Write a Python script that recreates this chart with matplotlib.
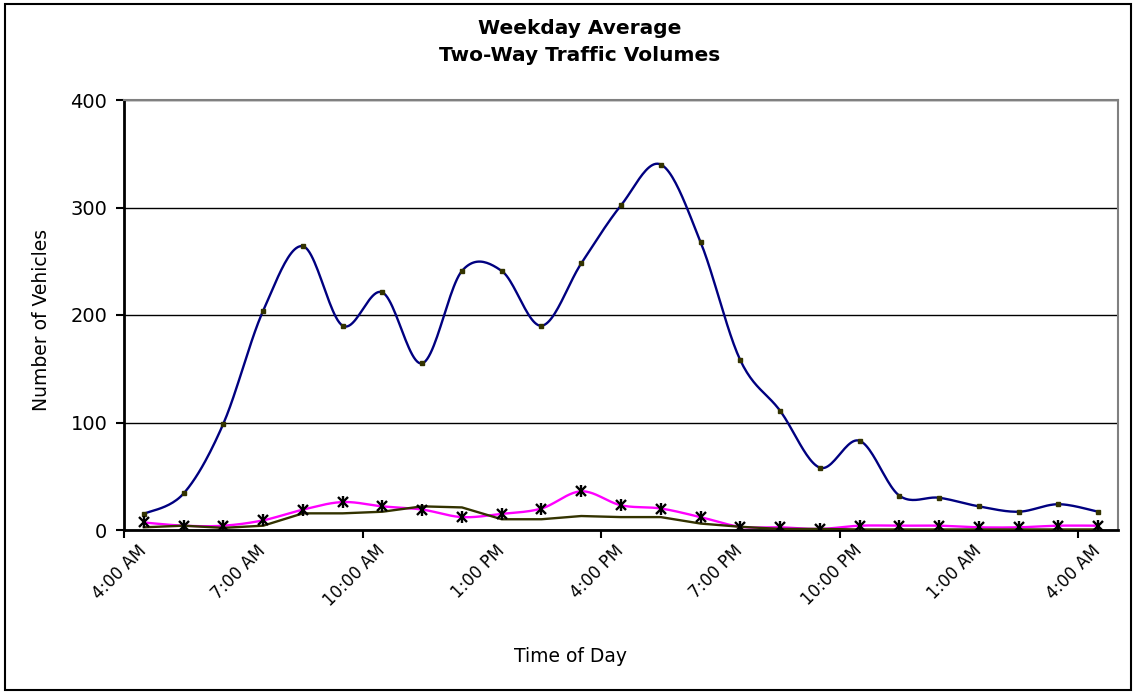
import numpy as np
import matplotlib.pyplot as plt
from matplotlib.patches import Rectangle

plt.rcParams['font.family'] = ['DejaVu Sans']

# hourly categories, 4:00 AM through 4:00 AM next day
hours = ['4:00 AM', '5:00 AM', '6:00 AM', '7:00 AM', '8:00 AM', '9:00 AM',
         '10:00 AM', '11:00 AM', '12:00 PM', '1:00 PM', '2:00 PM', '3:00 PM',
         '4:00 PM', '5:00 PM', '6:00 PM', '7:00 PM', '8:00 PM', '9:00 PM',
         '10:00 PM', '11:00 PM', '12:00 AM', '1:00 AM', '2:00 AM', '3:00 AM',
         '4:00 AM']

# series values
total = [15, 34, 99, 204, 264, 190, 221, 155, 241, 241, 190, 248, 302,
         340, 268, 158, 111, 58, 83, 32, 30, 22, 17, 24, 17]
magenta_vals = [7, 4, 4, 9, 19, 26, 22, 19, 12, 15, 20, 36, 23,
                20, 12, 3, 2.5, 1, 4, 4, 4, 2.5, 2.5, 4, 4]
olive_vals = [2.5, 4, 2, 4, 15.5, 15.5, 17, 22, 21, 10, 10, 13, 12,
              12, 6, 3, 1, 1, 0.5, 0.5, 0.5, 0.5, 0.5, 0.5, 0.5]


def smooth(vals, n=24):
    # excel-like smoothed line (bezier through the points)
    y = np.asarray(vals, float)
    pts = np.column_stack([np.arange(len(y)), y])
    p = np.vstack([pts[0], pts, pts[-1]])
    t = np.linspace(0, 1, n, endpoint=False)[:, None]
    out = []
    for i in range(len(pts) - 1):
        p0, p1, p2, p3 = p[i], p[i + 1], p[i + 2], p[i + 3]
        c1 = p1 + (p2 - p0) / 6
        c2 = p2 - (p3 - p1) / 6
        seg = (1 - t) ** 3 * p1 + 3 * (1 - t) ** 2 * t * c1 + 3 * (1 - t) * t ** 2 * c2 + t ** 3 * p2
        out.append(seg)
    out.append(pts[-1:])
    return np.vstack(out)


fig = plt.figure(figsize=(11.35, 6.93), dpi=100)
ax = fig.add_axes([124 / 1135, 1 - 530 / 693, 994 / 1135, 430 / 693])

x = np.arange(len(hours))

s = smooth(total)
ax.plot(s[:, 0], s[:, 1], color='#000080', lw=1.7, zorder=3)
ax.plot(x, total, ls='none', marker='s', ms=3, color='#333300', zorder=4)

s = smooth(magenta_vals)
ax.plot(s[:, 0], s[:, 1], color='#FF00FF', lw=1.7, zorder=3)
ax.plot(x, olive_vals, color='#333300', lw=1.7, zorder=3)
ax.plot(x, magenta_vals, ls='none', marker='x', ms=7, mew=1.7, color='black', zorder=5)
ax.plot(x, magenta_vals, ls='none', marker='|', ms=9, mew=1.7, color='black', zorder=5)

ax.set_xlim(-0.5, len(hours) - 0.5)
ax.set_ylim(0, 400)
ax.set_yticks([0, 100, 200, 300, 400])
ax.yaxis.grid(True, color='black', lw=1)
ax.set_axisbelow(True)
ax.tick_params(axis='y', direction='out', length=6, width=1.5, pad=6, labelsize=14)

# tick marks every 6 hours on category boundaries, labels every 3 hours
ax.set_xticks(np.arange(-0.5, len(hours), 6))
ax.set_xticklabels([])
ax.tick_params(axis='x', which='major', direction='out', length=6, width=1.5)
ax.set_xticks(x[::3], minor=True)
ax.set_xticklabels(hours[::3], minor=True, rotation=45, ha='right',
                   va='center', rotation_mode='anchor', fontsize=12)
ax.tick_params(axis='x', which='minor', length=0, pad=13)

for side in ['left', 'bottom']:
    ax.spines[side].set_linewidth(2)
    ax.spines[side].set_color('black')
for side in ['top', 'right']:
    ax.spines[side].set_linewidth(1.5)
    ax.spines[side].set_color('#808080')

fig.text(42 / 1135, 1 - 320 / 693, 'Number of Vehicles', rotation=90,
         ha='center', va='center', fontsize=13.5)
fig.text(570 / 1135, 1 - 657 / 693, 'Time of Day', ha='center', va='center', fontsize=13.5)
fig.text(580 / 1135, 1 - 42 / 693, 'Weekday Average\nTwo-Way Traffic Volumes',
         ha='center', va='center', fontsize=14.5, fontweight='bold', linespacing=1.5)

fig.patches.append(Rectangle((5 / 1135, 3 / 693), 1126 / 1135, 686 / 693,
                             transform=fig.transFigure, fill=False,
                             edgecolor='black', lw=1.5))

fig.savefig('out.png', dpi=100)
